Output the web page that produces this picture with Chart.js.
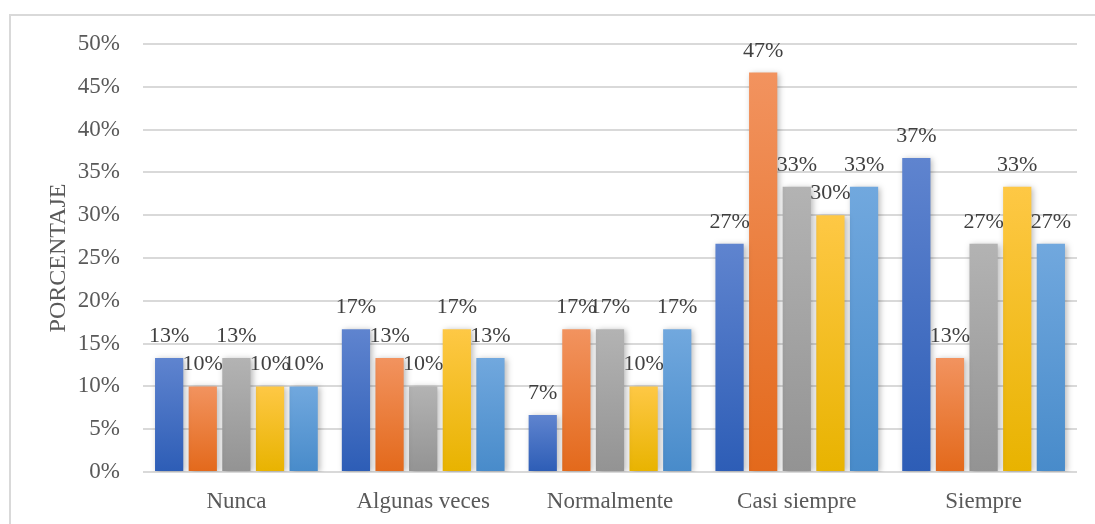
<!DOCTYPE html>
<html>
<head>
<meta charset="utf-8">
<script src="https://cdn.jsdelivr.net/npm/chart.js@4/dist/chart.umd.min.js"></script>
<style>
  html, body { margin: 0; padding: 0; background: #fff; overflow: hidden; }
  #wrap { position: relative; width: 1095px; height: 524px; }
  #frame { position: absolute; left: 9px; top: 14px; right: -10px; bottom: -10px; border: 2px solid #d9d9d9; }
  canvas { position: absolute; left: 0; top: 0; }
</style>
</head>
<body>
<div id="wrap">
  <div id="frame"></div>
  <canvas id="chart" width="1095" height="524"></canvas>
</div>
<script>
const categories = ['Nunca', 'Algunas veces', 'Normalmente', 'Casi siempre', 'Siempre'];
const seriesNames = ['Serie 1', 'Serie 2', 'Serie 3', 'Serie 4', 'Serie 5'];
const serie1 = [13.33, 16.67, 6.67, 26.67, 36.67];
const serie2 = [10, 13.33, 16.67, 46.67, 13.33];
const serie3 = [13.33, 10, 16.67, 33.33, 26.67];
const serie4 = [10, 16.67, 10, 30, 33.33];
const serie5 = [10, 13.33, 16.67, 33.33, 26.67];
const yTicks = [0, 5, 10, 15, 20, 25, 30, 35, 40, 45, 50];

// top / bottom colours of each bar gradient
const shades = [
  ['#5f84cf', '#2d5db6'],
  ['#f2935f', '#e3691b'],
  ['#b3b3b3', '#939393'],
  ['#fec845', '#e8b300'],
  ['#71a8de', '#488bca']
];

const FONT = '"Liberation Serif", "Times New Roman", serif';

function barGradient(i) {
  return (c) => {
    const chart = c.chart;
    const y = chart.scales.y;
    if (!chart.chartArea || !y || c.raw === undefined) return shades[i][0];
    const top = y.getPixelForValue(c.raw);
    const bottom = y.getPixelForValue(0);
    if (!isFinite(top) || bottom - top < 1) return shades[i][0];
    const g = chart.ctx.createLinearGradient(0, top, 0, bottom);
    g.addColorStop(0, shades[i][0]);
    g.addColorStop(1, shades[i][1]);
    return g;
  };
}

const shadowPlugin = {
  id: 'barShadow',
  beforeDatasetDraw(chart) {
    const ctx = chart.ctx;
    ctx.save();
    ctx.shadowColor = 'rgba(0,0,0,0.28)';
    ctx.shadowBlur = 6;
    ctx.shadowOffsetX = 2;
    ctx.shadowOffsetY = 1;
  },
  afterDatasetDraw(chart) {
    chart.ctx.restore();
  }
};

const labelPlugin = {
  id: 'valueLabels',
  afterDatasetsDraw(chart) {
    const ctx = chart.ctx;
    ctx.save();
    ctx.font = '22px ' + FONT;
    ctx.fillStyle = '#404040';
    ctx.textAlign = 'center';
    ctx.textBaseline = 'alphabetic';
    chart.data.datasets.forEach((ds, di) => {
      chart.getDatasetMeta(di).data.forEach((bar, i) => {
        ctx.fillText(Math.round(ds.data[i]) + '%', bar.x, bar.y - 16);
      });
    });
    ctx.restore();
  }
};

const allSeries = [serie1, serie2, serie3, serie4, serie5];

new Chart(document.getElementById('chart'), {
  type: 'bar',
  data: {
    labels: categories,
    datasets: allSeries.map((d, i) => ({
      label: seriesNames[i],
      data: d,
      backgroundColor: barGradient(i),
      borderWidth: 0,
      categoryPercentage: 0.9,
      barPercentage: 0.84
    }))
  },
  options: {
    responsive: false,
    animation: false,
    layout: { padding: { top: 44, right: 18, bottom: 0, left: 0 } },
    plugins: { legend: { display: false }, tooltip: { enabled: false } },
    scales: {
      x: {
        grid: { display: false },
        border: { display: false },
        ticks: { color: '#595959', font: { family: FONT, size: 23 }, padding: 8, maxRotation: 0 },
        afterFit: (s) => { s.height = 52; }
      },
      y: {
        min: 0,
        max: 50,
        afterBuildTicks: (s) => { s.ticks = yTicks.map(v => ({ value: v })); },
        grid: { color: '#d9d9d9', lineWidth: 2, drawTicks: false },
        border: { display: false },
        ticks: { color: '#595959', font: { family: FONT, size: 23 }, padding: 23, callback: (v) => v + '%' },
        title: { display: true, text: 'PORCENTAJE', color: '#595959', font: { family: FONT, size: 24 }, padding: { top: 44, bottom: 0 } },
        afterFit: (s) => { s.width = 143; }
      }
    }
  },
  plugins: [shadowPlugin, labelPlugin]
});
</script>
</body>
</html>
